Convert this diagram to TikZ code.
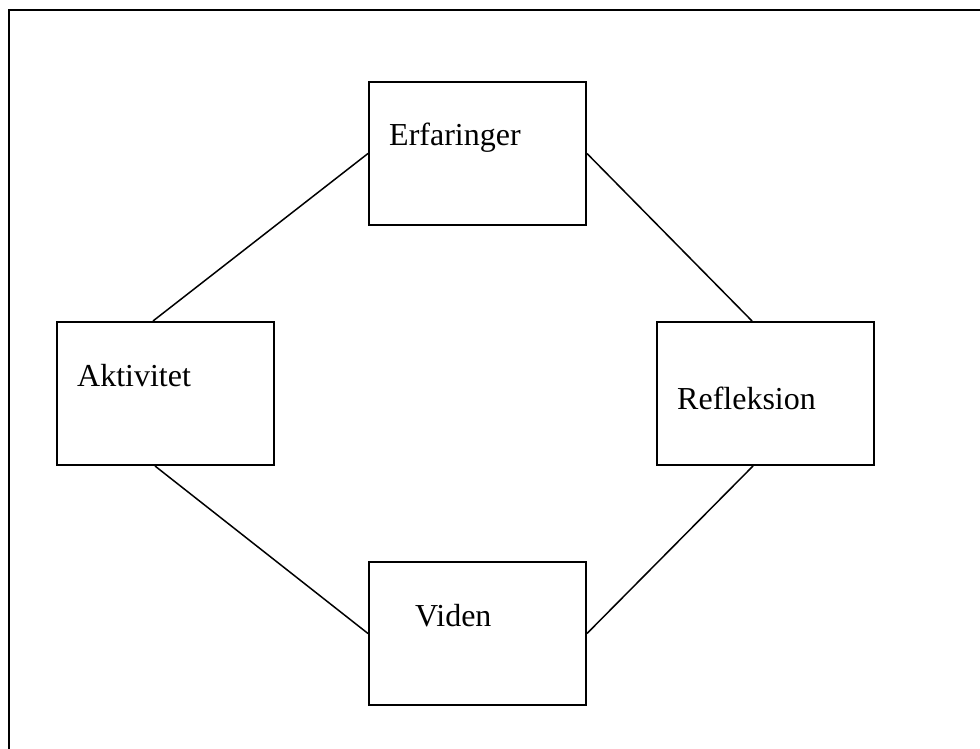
\documentclass[tikz,border=0pt]{standalone}
\usepackage{fontspec}
\setmainfont{Liberation Serif}
\usetikzlibrary{calc}
\begin{document}
\begin{tikzpicture}[x=1pt,y=-1pt,
  stage/.style={draw=black,line width=2pt,minimum width=217pt,minimum height=143pt,inner sep=0pt},
  tag/.style={fill=white,anchor=base west,font=\fontsize{32}{38}\selectfont,
    text height=31pt,text depth=22pt,inner ysep=10pt,inner xsep=19.5pt},
  link/.style={line width=1.5pt}]
  \useasboundingbox (0,0) rectangle (980,749);
  % frame: top and left edges only
  \draw[line width=2.2pt] (9,749) -- (9,10) -- (980,10);
  % the four stages of the cycle
  \node[stage] (erf) at (477.5,153.5) {};
  \node[stage] (akt) at (165,393.5) {};
  \node[stage] (ref) at (765,393.5) {};
  \node[stage] (vid) at (477.5,633.5) {};
  % connectors
  \coordinate (aktT) at ($(akt.north)+(-12,0)$);
  \coordinate (aktB) at ($(akt.south)+(-10,0)$);
  \coordinate (refT) at ($(ref.north)+(-13,0)$);
  \coordinate (refB) at ($(ref.south)+(-12,0)$);
  \draw[link] (erf.west) -- (aktT);
  \draw[link] (erf.east) -- (refT);
  \draw[link] (aktB) -- (vid.west);
  \draw[link] (refB) -- (vid.east);
  % labels
  \node[tag] (erfL) at (369.5,146) {Erfaringer};
  \node[tag] (aktL) at (57.5,386) {Aktivitet};
  \node[tag] (refL) at (657.5,409) {Refleksion};
  \node[tag] (vidL) at (395.5,626) {Viden};
\end{tikzpicture}
\end{document}
